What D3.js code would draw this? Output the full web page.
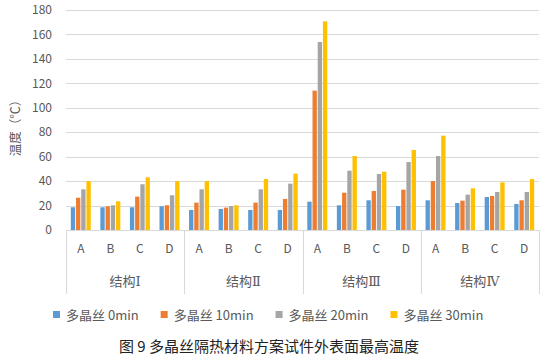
<!DOCTYPE html>
<html>
<head>
<meta charset="utf-8">
<script src="https://cdn.jsdelivr.net/npm/d3@7/dist/d3.min.js"></script>
<style>
  body { margin: 0; background: #fff; }
  text { font-family: "Noto Sans CJK SC", "Noto Sans", sans-serif; }
</style>
</head>
<body>
<script>
//chart data
var groups = ["结构Ⅰ", "结构Ⅱ", "结构Ⅲ", "结构Ⅳ"];
var cases = ["A", "B", "C", "D"];
var seriesNames = ["多晶丝 0min", "多晶丝 10min", "多晶丝 20min", "多晶丝 30min"];
var colors = ["#5b9bd5", "#ed7d31", "#a5a5a5", "#ffc000"];
var yTicks = [0, 20, 40, 60, 80, 100, 120, 140, 160, 180];

//values per series, ordered group by group, A-D
var s0min  = [18.6, 18.6, 18.6, 19.4,  16.4, 17.2, 16.4, 16.4,  23.2, 20.2, 24.3, 19.6,  24.3, 22.1, 27.0, 21.3];
var s10min = [26.4, 19.4, 27.3, 20.2,  22.4, 18.3, 22.4, 25.4,  114.0, 30.5, 31.9, 33.0,  40.0, 24.0, 27.8, 24.3];
var s20min = [33.3, 20.2, 37.4, 28.4,  33.3, 19.6, 33.3, 37.9,  153.8, 48.5, 45.8, 55.6,  60.5, 28.9, 31.1, 31.1];
var s30min = [40.0, 23.5, 43.1, 40.0,  40.0, 20.2, 41.7, 46.1,  170.7, 60.5, 47.7, 65.5,  77.2, 34.1, 39.0, 41.7];
var series = [s0min, s10min, s20min, s30min];

var width = 546, height = 360;
var plotLeft = 66, plotRight = 539, plotTop = 10, plotBottom = 230;

var svg = d3.select("body").append("svg")
    .attr("width", width)
    .attr("height", height);

var y = d3.scaleLinear().domain([0, 180]).range([plotBottom, plotTop]);

var x0 = d3.scaleBand().domain(groups).range([plotLeft, plotRight]);
var x1 = d3.scaleBand().domain(cases).range([0, x0.bandwidth()]);
var x2 = d3.scaleBand().domain(d3.range(series.length))
    .range([0, x1.bandwidth()])
    .paddingInner(0.17)
    .paddingOuter(0.92);

//gridlines
svg.append("g").selectAll("line")
    .data(yTicks)
    .enter().append("line")
    .attr("x1", plotLeft).attr("x2", plotRight)
    .attr("y1", function(d){ return Math.round(y(d)) + 0.5; })
    .attr("y2", function(d){ return Math.round(y(d)) + 0.5; })
    .attr("stroke", "#d9d9d9")
    .attr("stroke-width", 1);

//y labels
svg.append("g").selectAll("text")
    .data(yTicks)
    .enter().append("text")
    .attr("x", 52)
    .attr("y", function(d){ return y(d); })
    .attr("dy", "0.35em")
    .attr("text-anchor", "end")
    .attr("font-size", 12)
    .attr("fill", "#595959")
    .text(function(d){ return d; });

svg.append("text")
    .attr("transform", "translate(16,125) rotate(-90)")
    .attr("text-anchor", "middle")
    .attr("dy", "0.35em")
    .attr("font-size", 12.5)
    .attr("fill", "#595959")
    .text("温度（℃）");

//bars
var rows = [];
groups.forEach(function(g, gi){
    cases.forEach(function(c, ci){
        series.forEach(function(s, si){
            rows.push({g: g, c: c, si: si, v: s[gi * cases.length + ci]});
        });
    });
});

svg.append("g").selectAll("rect")
    .data(rows)
    .enter().append("rect")
    .attr("x", function(d){ return x0(d.g) + x1(d.c) + x2(d.si); })
    .attr("y", function(d){ return y(d.v); })
    .attr("width", x2.bandwidth())
    .attr("height", function(d){ return y(0) - y(d.v); })
    .attr("fill", function(d){ return colors[d.si]; });

//category axis: separators and labels
var seps = groups.map(function(g){ return x0(g); }).concat([plotRight]);
svg.append("g").selectAll("line")
    .data(seps)
    .enter().append("line")
    .attr("x1", function(d){ return Math.round(d) + 0.5; })
    .attr("x2", function(d){ return Math.round(d) + 0.5; })
    .attr("y1", plotBottom)
    .attr("y2", 294)
    .attr("stroke", "#d9d9d9");

var caseLabels = [];
groups.forEach(function(g){
    cases.forEach(function(c){ caseLabels.push({g: g, c: c}); });
});
svg.append("g").selectAll("text")
    .data(caseLabels)
    .enter().append("text")
    .attr("x", function(d){ return x0(d.g) + x1(d.c) + x1.bandwidth() / 2; })
    .attr("y", 249)
    .attr("dy", "0.35em")
    .attr("text-anchor", "middle")
    .attr("font-size", 12)
    .attr("fill", "#595959")
    .text(function(d){ return d.c; });

//group labels, roman numeral in a serif face like the original
var gl = svg.append("g").selectAll("text")
    .data(groups)
    .enter().append("text")
    .attr("x", function(d){ return x0(d) + x0.bandwidth() / 2; })
    .attr("y", 281)
    .attr("dy", "0.35em")
    .attr("text-anchor", "middle")
    .attr("font-size", 13)
    .attr("fill", "#595959");
gl.append("tspan").text(function(d){ return d.slice(0, 2); });
gl.append("tspan")
    .style("font-family", "'DejaVu Serif', 'Liberation Serif', serif")
    .attr("font-size", 13)
    .text(function(d){ return d.slice(2); });

//legend
var lx = 53;
seriesNames.forEach(function(name, i){
    svg.append("rect")
        .attr("x", lx).attr("y", 311)
        .attr("width", 7).attr("height", 7)
        .attr("fill", colors[i]);
    var t = svg.append("text")
        .attr("x", lx + 13)
        .attr("y", 315)
        .attr("dy", "0.35em")
        .attr("font-size", 13)
        .attr("fill", "#595959")
        .text(name);
    lx += 13 + t.node().getComputedTextLength() + 22;
});

//caption
svg.append("text")
    .attr("x", 269)
    .attr("y", 347)
    .attr("dy", "0.35em")
    .attr("text-anchor", "middle")
    .attr("font-size", 15)
    .attr("fill", "#222")
    .text("图 9  多晶丝隔热材料方案试件外表面最高温度");
</script>
</body>
</html>
